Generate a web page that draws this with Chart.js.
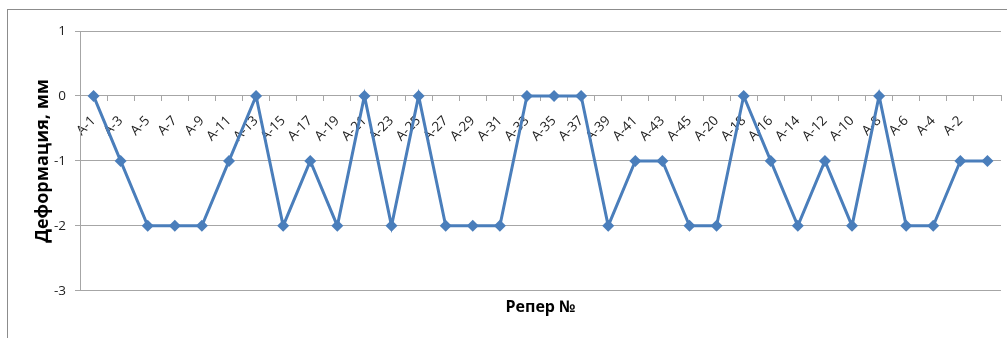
<!DOCTYPE html>
<html>
<head>
<meta charset="utf-8">
<script src="https://cdn.jsdelivr.net/npm/chart.js@4"></script>
<style>
  html, body { margin: 0; padding: 0; background: #fff; }
  #wrap { position: relative; width: 1007px; height: 338px; overflow: hidden; }
  #frame { position: absolute; left: 7px; top: 9px; width: 1010px; height: 340px;
           border-left: 1px solid #8c8c8c; border-top: 1px solid #8c8c8c; }
  canvas { position: absolute; left: 0; top: 0; }
</style>
</head>
<body>
<div id="wrap">
  <div id="frame"></div>
  <canvas id="chart" width="1007" height="338"></canvas>
</div>
<script>
// benchmarks (last point has no label on the axis)
const labels = ['A-1', 'A-3', 'A-5', 'A-7', 'A-9', 'A-11', 'A-13', 'A-15', 'A-17', 'A-19',
  'A-21', 'A-23', 'A-25', 'A-27', 'A-29', 'A-31', 'A-33', 'A-35', 'A-37', 'A-39',
  'A-41', 'A-43', 'A-45', 'A-20', 'A-18', 'A-16', 'A-14', 'A-12', 'A-10', 'A-8',
  'A-6', 'A-4', 'A-2', ''];

// deformation, mm
const deformation = [0, -1, -2, -2, -2, -1, 0, -2, -1, -2,
  0, -2, 0, -2, -2, -2, 0, 0, 0, -2,
  -1, -1, -2, -2, 0, -1, -2, -1, -2, 0,
  -2, -2, -1, -1];

const yMin = -3;
const yMax = 1;
const yTitle = 'Деформация, мм';
const xTitle = 'Репер №';

const blue = '#4a7ebb';
const gridColor = '#a6a6a6';
const tickFont = { family: 'Open Sans', size: 13.5 };

// y title drawn by hand so it sits centred on the plot area
const yTitlePlugin = {
  id: 'yTitle',
  afterDraw(chart) {
    const { ctx, chartArea } = chart;
    ctx.save();
    ctx.translate(43, (chartArea.top + chartArea.bottom) / 2);
    ctx.rotate(-Math.PI / 2);
    ctx.font = 'bold 18px "Open Sans"';
    ctx.fillStyle = '#000';
    ctx.textAlign = 'center';
    ctx.textBaseline = 'middle';
    ctx.fillText(yTitle, 0, 0);
    ctx.restore();
  }
};

new Chart(document.getElementById('chart'), {
  type: 'line',
  data: {
    labels: labels,
    datasets: [{
      data: deformation,
      borderColor: blue,
      backgroundColor: blue,
      borderWidth: 3,
      tension: 0,
      pointStyle: 'rectRot',
      pointRadius: 6,
      pointBorderWidth: 0,
      pointBackgroundColor: blue
    }]
  },
  options: {
    responsive: false,
    animation: false,
    layout: { padding: { top: 31, right: 5, bottom: 21, left: 0 } },
    plugins: {
      legend: { display: false },
      tooltip: { enabled: false },
      title: {
        display: true,
        position: 'bottom',
        fullSize: false,
        text: xTitle,
        color: '#000',
        font: { family: 'Open Sans', size: 16, weight: 'bold' },
        padding: { top: 7, bottom: 0 }
      }
    },
    scales: {
      x: {
        position: { y: 0 },
        offset: true,
        grid: { drawOnChartArea: false, drawTicks: true, tickLength: 5, offset: true, color: gridColor },
        border: { display: true, color: gridColor, width: 1 },
        ticks: {
          autoSkip: false,
          minRotation: 45,
          maxRotation: 45,
          padding: 12,
          color: '#222',
          font: tickFont
        },
        afterFit: function (scale) { scale.paddingLeft = 0; scale.paddingRight = 0; }
      },
      y: {
        min: yMin,
        max: yMax,
        grid: { color: gridColor, tickLength: 5 },
        border: { display: true, color: gridColor },
        ticks: { stepSize: 1, padding: 9, color: '#222', font: tickFont },
        afterFit: function (scale) { scale.width = 80; }
      }
    }
  },
  plugins: [yTitlePlugin]
});
</script>
</body>
</html>
